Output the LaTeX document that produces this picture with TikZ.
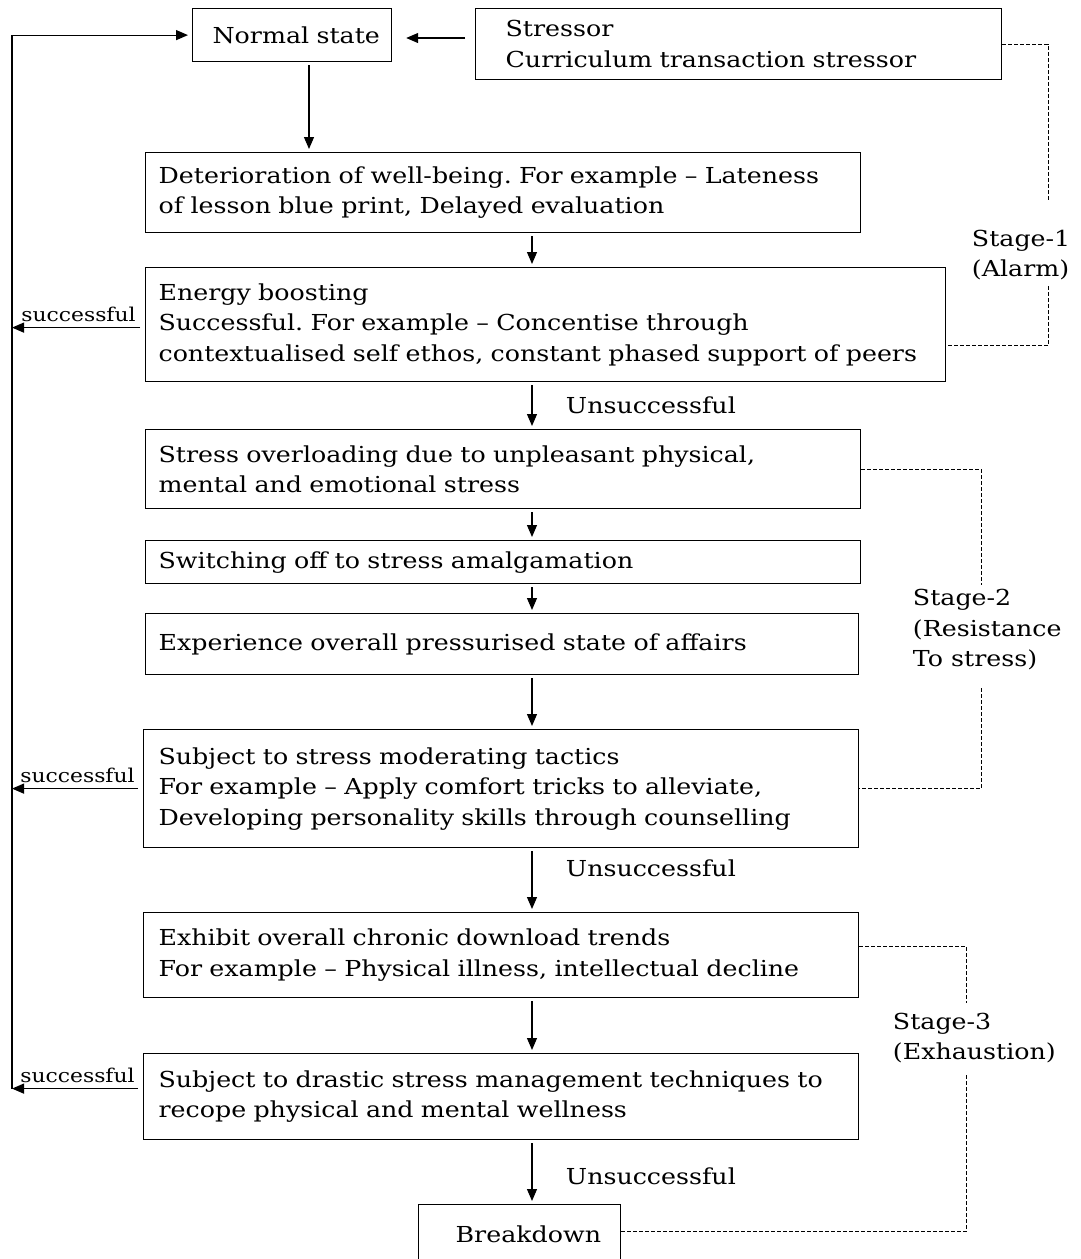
\documentclass[tikz,border=0pt]{standalone}
\usepackage{fontspec}
\setmainfont[FakeStretch=1.15]{DejaVu Serif}
\usetikzlibrary{arrows.meta,positioning}
\frenchspacing
\begin{document}
\begin{tikzpicture}[x=1pt,y=-1pt,line width=1.2pt,>={Triangle[length=12pt,width=10pt]},font=\fontsize{22}{30.5}\selectfont,
	box/.style={draw,anchor=north west,align=left,inner ysep=0pt,inner xsep=13pt},
	lbl/.style={font=\fontsize{19}{22}\selectfont},
	stage/.style={line width=0.8pt,dash pattern=on 4pt off 2pt},
	flow/.style={->,shorten <=3pt,shorten >=3pt}]
	\useasboundingbox (0,0) rectangle (1080,1259);
	\node[box,inner xsep=20pt,text width=159pt,minimum height=53pt] (normal) at (192,8) {\mbox{Normal state}};
	\node[box,inner xsep=30pt,text width=466pt,minimum height=71pt] (stressor) at (475,8) {Stressor\\Curriculum transaction stressor};
	\node[box,text width=689pt,minimum height=80pt] (deter) at (145,152) {Deterioration of well-being. For example – Lateness\\of lesson blue print, Delayed evaluation};
	\node[box,text width=774pt,minimum height=114pt] (energy) at (145,267) {Energy boosting\\Successful. For example – Concentise through\\contextualised self ethos, constant phased support of peers};
	\node[box,text width=689pt,minimum height=79pt] (overload) at (145,429) {Stress overloading due to unpleasant physical,\\mental and emotional stress};
	\node[box,text width=689pt,minimum height=43pt] (switch) at (145,540) {Switching off to stress amalgamation};
	\node[box,text width=687pt,minimum height=61pt] (exper) at (145,613) {Experience overall pressurised state of affairs};
	\node[box,inner xsep=15pt,text width=685pt,minimum height=118pt] (moder) at (143,729) {Subject to stress moderating tactics\\For example – Apply comfort tricks to alleviate,\\Developing personality skills through counselling};
	\node[box,inner xsep=15pt,text width=685pt,minimum height=85pt] (exhibit) at (143,912) {Exhibit overall chronic download trends\\For example – Physical illness, intellectual decline};
	\node[box,inner xsep=15pt,text width=685pt,minimum height=86pt] (drastic) at (143,1053) {Subject to drastic stress management techniques to\\recope physical and mental wellness};
	\node[box,inner xsep=37pt,text width=128pt,minimum height=60pt] (breakdown) at (418,1204) {Breakdown};
	\node[align=left,anchor=west] (s1) at (968,255) {Stage-1\\(Alarm)};
	\node[align=left,anchor=west] (s2) at (909,630) {Stage-2\\(Resistance\\To stress)};
	\node[align=left,anchor=west] (s3) at (889,1038) {Stage-3\\(Exhaustion)};
	\coordinate (c1) at (309,0);
	\coordinate (c2) at (532,0);
	\coordinate (back) at (12,0);
	\draw[flow] (normal.south -| c1) -- (deter.north -| c1);
	\draw[->,shorten <=10pt,shorten >=14pt] (stressor.west |- 0,38) -- (normal.east |- 0,38);
	\draw[flow] (deter.south -| c2) -- (energy.north -| c2);
	\draw[flow] (energy.south -| c2) -- node[right=30pt]{Unsuccessful} (overload.north -| c2);
	\draw[flow] (overload.south -| c2) -- (switch.north -| c2);
	\draw[flow] (switch.south -| c2) -- (exper.north -| c2);
	\draw[flow] (exper.south -| c2) -- (moder.north -| c2);
	\draw[flow] (moder.south -| c2) -- node[right=30pt,yshift=12pt]{Unsuccessful} (exhibit.north -| c2);
	\draw[flow] (exhibit.south -| c2) -- (drastic.north -| c2);
	\draw[flow] (drastic.south -| c2) -- node[right=30pt,yshift=-4pt]{Unsuccessful} (breakdown.north -| c2);
	\draw[->,shorten <=5pt] ([yshift=-3pt]energy.west) -- node[lbl,above=2pt]{successful} ([yshift=-3pt]energy.west -| back);
	\draw[->,shorten <=5pt] (moder.west) -- node[lbl,above=2pt]{successful} (moder.west -| back);
	\draw[->,shorten <=5pt] ([yshift=8pt]drastic.west) -- node[lbl,above=2pt]{successful} ([yshift=8pt]drastic.west -| back);
	\draw[->,shorten >=4pt] ([yshift=8pt]drastic.west -| back) -- (back |- normal.west) -- (normal.west);
	\coordinate (s1a) at (1048,200);
	\coordinate (s1b) at (1048,286);
	\coordinate (s2a) at (981,585);
	\coordinate (s2b) at (981,688);
	\coordinate (s3a) at (966,1003);
	\coordinate (s3b) at (966,1075);
	\draw[stage] (stressor.east) -| (s1a);
	\draw[stage] (s1b) |- ([yshift=-21pt]energy.east);
	\draw[stage] (overload.east) -| (s2a);
	\draw[stage] (s2b) |- (moder.east);
	\draw[stage] ([yshift=9pt]exhibit.east) -| (s3a);
	\draw[stage] (s3b) |- ([yshift=3pt]breakdown.east);
\end{tikzpicture}
\end{document}
